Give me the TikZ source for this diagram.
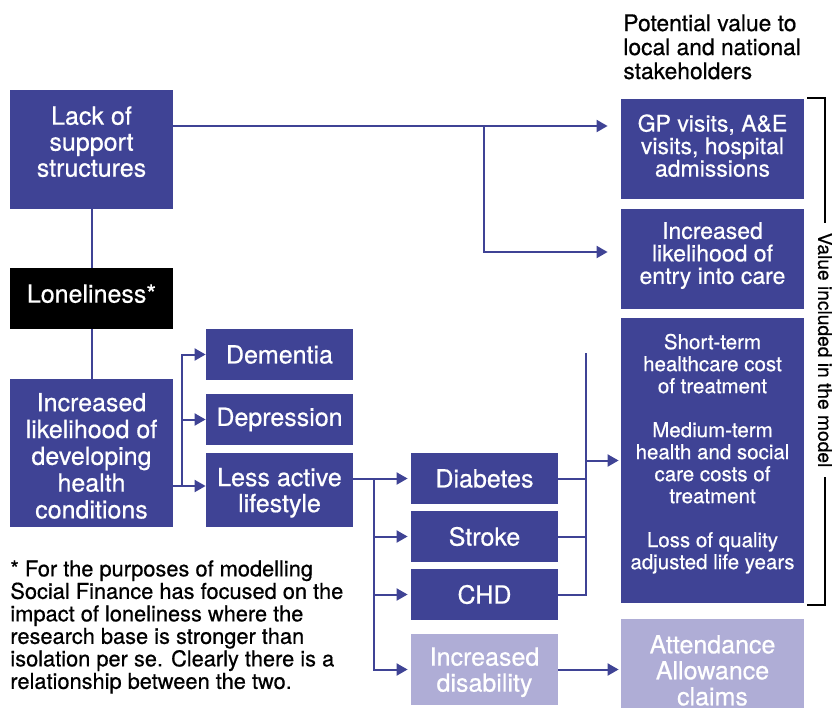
\documentclass[tikz,border=0pt]{standalone}
\usepackage{fontspec}
\setmainfont{TeX Gyre Heros}[FakeBold=0.6]
\usetikzlibrary{arrows.meta}
\definecolor{sfblue}{RGB}{63,67,149}
\definecolor{sflight}{RGB}{175,173,214}

\tikzset{
  box/.style={fill=sfblue, text=white, align=center, inner sep=0pt,
    font=\fontsize{12.5}{13}\selectfont},
  lightbox/.style={box, fill=sflight},
  dims/.style 2 args={minimum width=#1*0.5pt, minimum height=#2*0.5pt},
  valuebox/.style={box, dims={183}{100}, font=\fontsize{11.5}{11.25}\selectfont},
  link/.style={draw=sfblue, line width=1pt},
  arr/.style={link, -{Triangle[length=5.5pt,width=6pt]}},
}

\begin{document}
\begin{tikzpicture}[x=0.5pt,y=-0.5pt]
\useasboundingbox (0,0) rectangle (832,708);

% causes
\node[box, dims={163}{119}, text depth=8pt] (lack) at (91.5,149.5) {Lack of\\support\\structures};
\node[box, fill=black, dims={163}{61}, text depth=5pt] (lonely) at (91.5,298.5) {Loneliness*};
\node[box, dims={163}{148}, font=\fontsize{12.5}{13.4}\selectfont, text height=65.6pt] (health) at (91.5,453) {Increased\\likelihood of\\developing\\health\\conditions};

% conditions
\node[box, dims={147}{51}] (dementia) at (279.5,354.5) {Dementia};
\node[box, dims={147}{51}] (depression) at (279.5,419.5) {Depression};
\node[box, dims={147}{74}, text depth=0pt] (lessactive) at (279.5,490) {Less active\\lifestyle};
\node[box, dims={147}{51}] (diabetes) at (484.5,478.5) {Diabetes};
\node[box, dims={147}{51}] (stroke) at (484.5,536.5) {Stroke};
\node[box, dims={147}{51}] (chd) at (484.5,594.5) {CHD};
\node[lightbox, dims={147}{71}, text depth=0pt] (disability) at (484.5,669.5) {Increased\\disability};

% value to stakeholders
\node[anchor=north west, inner sep=0pt, align=left, font=\fontsize{11.4}{12}\selectfont] (header) at (623,14) {Potential value to\\local and national\\stakeholders};
\node[valuebox, text depth=3.5pt] (gp) at (712.5,149) {GP visits, A\&E\\visits, hospital\\admissions};
\node[valuebox, text depth=6pt] (entry) at (712.5,259) {Increased\\likelihood of\\entry into care};
\node[box, dims={183}{285}, font=\fontsize{10.25}{11}\selectfont, text depth=9pt] (costs) at (712.5,460.5)
  {Short-term\\healthcare cost\\of treatment\\[11pt]Medium-term\\health and social\\care costs of\\treatment\\[11pt]Loss of quality\\adjusted life years};
\node[lightbox, dims={183}{89}, text height=42pt] (attend) at (712.5,663.5) {Attendance\\Allowance\\claims};

% footnote
\node[anchor=north west, inner sep=0pt, align=left, font=\fontsize{10.9}{11.25}\selectfont] (note) at (10,560)
  {* For the purposes of modelling\\Social Finance has focused on the\\impact of loneliness where the\\research base is stronger than\\isolation per se. Clearly there is a\\relationship between the two.};

% links
\draw[link] (lack.south) -- (lonely.north);
\draw[link] (lonely.south) -- (health.north);

\coordinate (split) at (484,126);
\coordinate (split2) at (484,252);
\draw[arr, shorten >=6.5pt] (lack.east |- split) -- (gp.west |- split);
\draw[arr, shorten >=6.5pt] (split) -- (split2) -- (entry.west |- split2);

\coordinate (fork) at (182,486);
\draw[link] (health.east |- fork) -- (fork);
\draw[arr] (fork) |- (dementia.west);
\draw[arr] (fork) |- (depression.west);
\draw[arr] (fork) -- (lessactive.west |- fork);

\coordinate (fork2) at (374,478.5);
\draw[arr, shorten >=1.5pt] (lessactive.east |- diabetes.west) -- (diabetes.west);
\draw[arr, shorten >=1.5pt] (fork2) |- (stroke.west);
\draw[arr, shorten >=1.5pt] (fork2) |- (chd.west);
\draw[arr, shorten >=1.5pt] (fork2) |- (disability.west);

\coordinate (merge) at (586,353);
\draw[link] (diabetes.east) -- (merge |- diabetes.east);
\draw[link] (stroke.east) -- (merge |- stroke.east);
\draw[link] (chd.east) -| (merge);
\draw[arr, shorten >=1pt] (merge |- costs.west) -- (costs.west);
\draw[arr, shorten >=1pt] (disability.east) -- (attend.west |- disability.east);

% bracket
\coordinate (bt) at (807,98);
\coordinate (bb) at (807,605);
\draw[line width=1pt] (bt) -- ++(18,0) |- (bb);
\node[fill=white, rotate=-90, inner xsep=5pt, inner ysep=1pt, font=\fontsize{9.6}{10}\selectfont] (valuelbl) at (825,350) {Value included in the model};
\end{tikzpicture}
\end{document}
